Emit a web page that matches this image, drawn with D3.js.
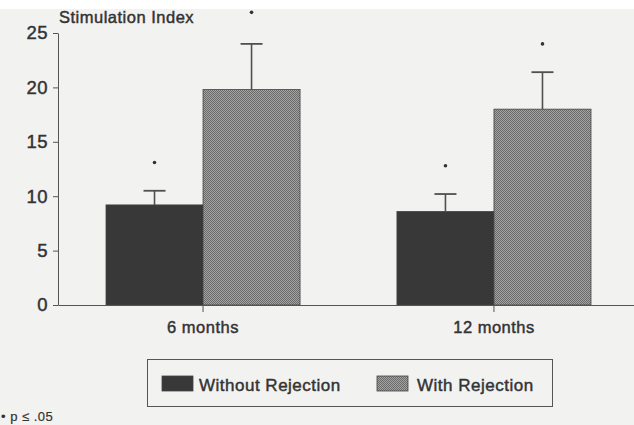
<!DOCTYPE html>
<html>
<head>
<meta charset="utf-8">
<script src="https://cdn.jsdelivr.net/npm/d3@7"></script>
<style>
  body { margin: 0; background: #f2f2f1; }
  svg text { font-family: "Liberation Sans", Arial, sans-serif; fill: #333; stroke: #333; stroke-width: 0.45px; letter-spacing: 0.5px; }
</style>
</head>
<body>
<div id="chart"></div>
<script>
// values
var categories = ["6 months", "12 months"];
var seriesNames = ["Without Rejection", "With Rejection"];
var meanWithout = [9.2, 8.6];
var meanWith = [19.8, 18.0];
var errTopWithout = [10.5, 10.2];
var errTopWith = [24.0, 21.4];
var starWithout = [13.1, 12.8];
var starWith = [26.9, 24.0];
var yTicks = [0, 5, 10, 15, 20, 25];

var width = 634, height = 425;

var svg = d3.select("#chart").append("svg")
    .attr("width", width)
    .attr("height", height);

// paper background, white strip on top
svg.append("rect").attr("width", width).attr("height", height).attr("fill", "#f2f2f1");
svg.append("rect").attr("width", width).attr("height", 9).attr("fill", "#ffffff");

// fine dither for the "with rejection" bars
var defs = svg.append("defs");
var pat = defs.append("pattern")
    .attr("id", "hatch")
    .attr("patternUnits", "userSpaceOnUse")
    .attr("width", 2).attr("height", 2);
pat.append("rect").attr("width", 2).attr("height", 2).attr("fill", "#a4a4a4");
pat.append("rect").attr("width", 1).attr("height", 1).attr("fill", "#6a6a6a");
pat.append("rect").attr("x", 1).attr("y", 1).attr("width", 1).attr("height", 1).attr("fill", "#6a6a6a");

var y = d3.scaleLinear().domain([0, 25]).range([305, 33]);

var x0 = d3.scaleBand().domain(categories).range([58, 639])
    .paddingInner(0.333).paddingOuter(0.165);
var x1 = d3.scaleBand().domain(seriesNames).range([0, x0.bandwidth()]);

var data = categories.map(function(c, i) {
    return [
        { cat: c, s: seriesNames[0], v: meanWithout[i], e: errTopWithout[i], star: starWithout[i] },
        { cat: c, s: seriesNames[1], v: meanWith[i], e: errTopWith[i], star: starWith[i] }
    ];
});
var flat = d3.merge(data);

var fills = { "Without Rejection": "#383838", "With Rejection": "url(#hatch)" };

// y axis
var yAxis = d3.axisLeft(y).tickValues(yTicks).tickSize(5).tickSizeOuter(0).tickPadding(5);
var gy = svg.append("g").attr("transform", "translate(58,0)").call(yAxis);
gy.select(".domain").attr("stroke", "#555");
gy.selectAll(".tick line").attr("stroke", "#555");
gy.selectAll(".tick text").style("font-size", "18.5px").style("fill", "#333");

svg.append("text")
    .attr("x", 59).attr("y", 23)
    .style("font-size", "16.5px")
    .text("Stimulation Index");

// error bars
var cx = function(d) { return x0(d.cat) + x1(d.s) + x1.bandwidth() / 2; };
var eb = svg.selectAll(".err").data(flat).enter().append("g").attr("class", "err");
eb.append("line")
    .attr("x1", cx).attr("x2", cx)
    .attr("y1", function(d) { return y(d.v); })
    .attr("y2", function(d) { return y(d.e); })
    .attr("stroke", "#505050").attr("stroke-width", 1.6);
eb.append("line")
    .attr("x1", function(d) { return cx(d) - 11; })
    .attr("x2", function(d) { return cx(d) + 11; })
    .attr("y1", function(d) { return y(d.e); })
    .attr("y2", function(d) { return y(d.e); })
    .attr("stroke", "#505050").attr("stroke-width", 1.8);
eb.append("circle")
    .attr("cx", cx)
    .attr("cy", function(d) { return y(d.star); })
    .attr("r", 1.8)
    .attr("fill", "#333");

// bars
svg.selectAll(".bar").data(flat).enter().append("rect")
    .attr("class", "bar")
    .attr("x", function(d) { return x0(d.cat) + x1(d.s); })
    .attr("width", x1.bandwidth())
    .attr("y", function(d) { return y(d.v); })
    .attr("height", function(d) { return y(0) - y(d.v); })
    .attr("fill", function(d) { return fills[d.s]; })
    .attr("stroke", "#444").attr("stroke-width", 0.8);

// x axis
var xAxis = d3.axisBottom(x0).tickSize(7).tickSizeOuter(0).tickPadding(9);
var gx = svg.append("g").attr("transform", "translate(0,305)").call(xAxis);
gx.select(".domain").attr("stroke", "#555");
gx.selectAll(".tick line").attr("stroke", "#555");
gx.selectAll(".tick text").style("font-size", "16.5px").style("fill", "#333");

// legend
var lg = svg.append("g");
lg.append("rect")
    .attr("x", 147.5).attr("y", 359.5).attr("width", 405).attr("height", 47)
    .attr("fill", "none").attr("stroke", "#555").attr("stroke-width", 1);
var legX = [162, 377], legTextX = [199, 417];
seriesNames.forEach(function(s, i) {
    lg.append("rect")
        .attr("x", legX[i]).attr("y", 376).attr("width", 31).attr("height", 15)
        .attr("fill", fills[s]).attr("stroke", "#444").attr("stroke-width", 0.8);
    lg.append("text")
        .attr("x", legTextX[i]).attr("y", 391)
        .style("font-size", "17px")
        .text(s);
});

// footnote at the bottom edge
svg.append("text")
    .attr("x", 1).attr("y", 421)
    .style("font-size", "13px")
    .style("stroke-width", "0.2px")
    .text("\u2022 p \u2264 .05");
</script>
</body>
</html>
